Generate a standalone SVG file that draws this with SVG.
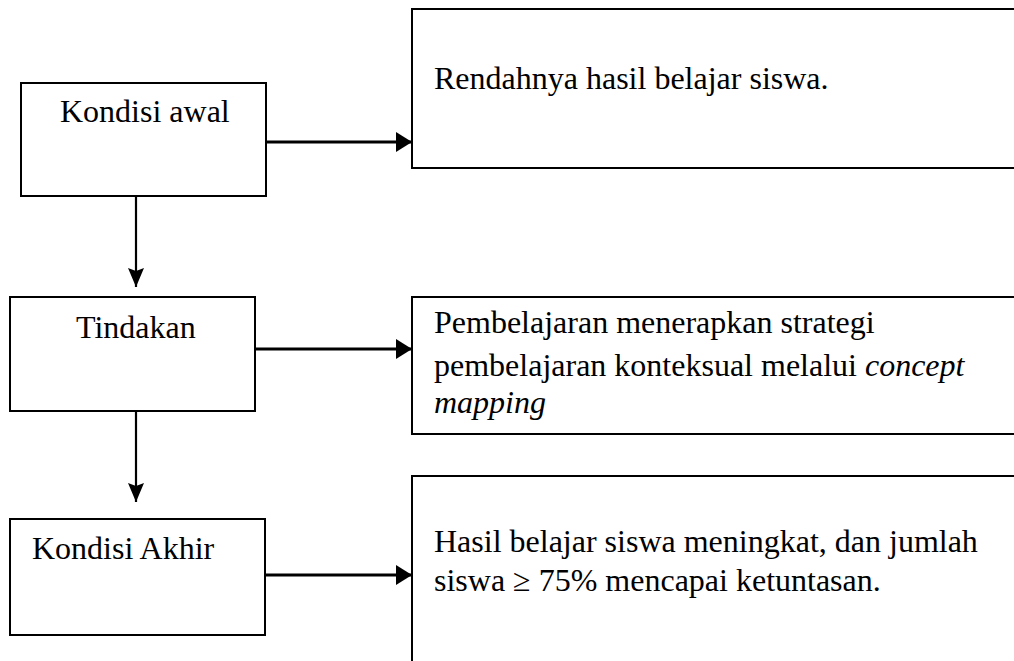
<svg xmlns="http://www.w3.org/2000/svg" width="1014" height="661" viewBox="0 0 1014 661">
<style>
.box{fill:#fff;stroke:#000;stroke-width:2}
.t{font-family:"Liberation Serif","Times New Roman",serif;font-size:32px;fill:#000}
.h{stroke:#000;stroke-width:3;fill:none}
.v{stroke:#000;stroke-width:2.2;fill:none}
</style>
<defs>
<marker id="ah" markerUnits="userSpaceOnUse" markerWidth="17" markerHeight="20" refX="16" refY="10" orient="auto">
<path d="M0,0 L16,10 L0,20 Z" fill="#000"/>
</marker>
<marker id="av" markerUnits="userSpaceOnUse" markerWidth="20" markerHeight="16" refX="19" refY="8" orient="auto">
<path d="M0,0 L19,8 L0,16 L3,8 Z" fill="#000"/>
</marker>
</defs>
<rect width="1014" height="661" fill="#fff"/>
<g id="kondisi-awal">
<rect class="box" x="21" y="83" width="245" height="113"/>
<text class="t" x="60" y="122">Kondisi awal</text>
</g>
<g id="rendahnya">
<rect class="box" x="412" y="9" width="610" height="159"/>
<text class="t" x="434" y="89">Rendahnya hasil belajar siswa.</text>
</g>
<g id="tindakan">
<rect class="box" x="10" y="297" width="245" height="114"/>
<text class="t" x="76" y="338">Tindakan</text>
</g>
<g id="pembelajaran">
<rect class="box" x="412" y="297" width="610" height="137"/>
<text class="t" x="434" y="333">Pembelajaran menerapkan strategi</text>
<text class="t" x="434" y="376">pembelajaran konteksual melalui <tspan font-style="italic">concept</tspan></text>
<text class="t" x="434" y="413" font-style="italic">mapping</text>
</g>
<g id="kondisi-akhir">
<rect class="box" x="10" y="519" width="255" height="116"/>
<text class="t" x="32" y="559">Kondisi Akhir</text>
</g>
<g id="hasil">
<rect class="box" x="412" y="476" width="610" height="200"/>
<text class="t" x="434" y="552">Hasil belajar siswa meningkat, dan jumlah</text>
<text class="t" x="434" y="591">siswa ≥ 75% mencapai ketuntasan.</text>
</g>
<g id="connectors">
<line class="h" x1="266" y1="142" x2="412" y2="142" marker-end="url(#ah)"/>
<line class="h" x1="255" y1="349" x2="412" y2="349" marker-end="url(#ah)"/>
<line class="h" x1="265" y1="575" x2="412" y2="575" marker-end="url(#ah)"/>
<line class="v" x1="136" y1="196" x2="136" y2="287" marker-end="url(#av)"/>
<line class="v" x1="136" y1="411" x2="136" y2="502" marker-end="url(#av)"/>
</g>
</svg>
